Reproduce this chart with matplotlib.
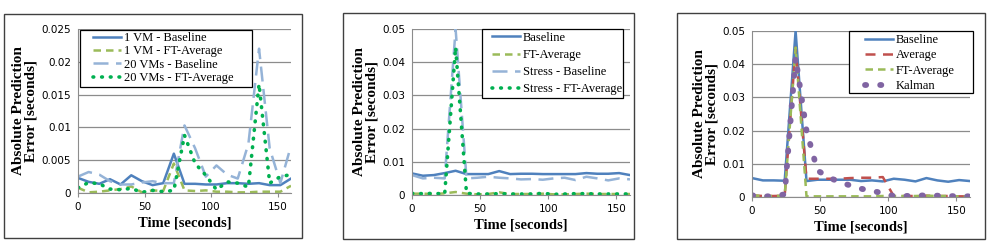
import numpy as np
import matplotlib.pyplot as plt
from matplotlib.patches import Rectangle

t = np.arange(0, 161, 8)

# panel 1
vm1_base = [0.0023, 0.0017, 0.0014, 0.0021, 0.0013, 0.0027, 0.0018, 0.0012, 0.0015, 0.0060, 0.0014,
            0.0014, 0.0013, 0.0013, 0.0015, 0.0015, 0.0014, 0.0015, 0.0012, 0.0012, 0.0022]
vm1_ft = [0.0008, 0.0001, 0.0002, 0.0004, 0.0006, 0.0010, 0.0001, 0.0004, 0.0003, 0.0045, 0.0004,
          0.0003, 0.0004, 0.0002, 0.0002, 0.0001, 0.0001, 0.0002, 0.0002, 0.0002, 0.0011]
vm20_base = [0.0025, 0.0032, 0.0028, 0.0018, 0.0013, 0.0013, 0.0016, 0.0018, 0.0015, 0.0015, 0.0103,
             0.0068, 0.0025, 0.0042, 0.0028, 0.0022, 0.0075, 0.0220, 0.0068, 0.0015, 0.0072]
vm20_ft = [0.0008, 0.0016, 0.0014, 0.0006, 0.0005, 0.0007, 0.0001, 0.0004, 0.0002, 0.0004, 0.0088,
           0.0045, 0.0027, 0.0005, 0.0017, 0.0015, 0.0009, 0.0166, 0.0015, 0.0025, 0.0028]

# panel 2
p2_base = [0.0065, 0.0058, 0.0060, 0.0066, 0.0073, 0.0063, 0.0063, 0.0063, 0.0072, 0.0063, 0.0064,
           0.0064, 0.0063, 0.0063, 0.0063, 0.0063, 0.0066, 0.0064, 0.0064, 0.0066, 0.0060]
p2_ft = [0.0004, 0.0004, 0.0003, 0.0005, 0.0009, 0.0004, 0.0002, 0.0003, 0.0008, 0.0003, 0.0003,
         0.0003, 0.0004, 0.0002, 0.0002, 0.0003, 0.0004, 0.0003, 0.0003, 0.0003, 0.0003]
p2_stress_base = [0.0060, 0.0050, 0.0052, 0.0050, 0.0500, 0.0050, 0.0052, 0.0055, 0.0052, 0.0050, 0.0047,
                  0.0048, 0.0046, 0.0050, 0.0052, 0.0045, 0.0055, 0.0050, 0.0044, 0.0050, 0.0047]
p2_stress_ft = [0.0005, 0.0004, 0.0005, 0.0003, 0.0445, 0.0005, 0.0003, 0.0003, 0.0004, 0.0003, 0.0003,
                0.0003, 0.0005, 0.0002, 0.0003, 0.0004, 0.0004, 0.0003, 0.0003, 0.0003, 0.0003]

# panel 3
p3_base = [0.0057, 0.0050, 0.0050, 0.0049, 0.0500, 0.0048, 0.0052, 0.0052, 0.0052, 0.0052, 0.0048,
           0.0050, 0.0047, 0.0055, 0.0052, 0.0047, 0.0057, 0.0050, 0.0046, 0.0051, 0.0048]
p3_avg = [0.0005, 0.0003, 0.0003, 0.0004, 0.0450, 0.0055, 0.0055, 0.0055, 0.0055, 0.0057, 0.0058,
          0.0058, 0.0060, 0.0003, 0.0003, 0.0003, 0.0004, 0.0003, 0.0003, 0.0002, 0.0002]
p3_ft = [0.0005, 0.0003, 0.0003, 0.0004, 0.0450, 0.0002, 0.0002, 0.0002, 0.0002, 0.0002, 0.0002,
         0.0002, 0.0003, 0.0003, 0.0003, 0.0003, 0.0004, 0.0003, 0.0003, 0.0002, 0.0003]
p3_kalman = [0.0005, 0.0002, 0.0002, 0.0008, 0.0420, 0.0200, 0.0080, 0.0060, 0.0045, 0.0035, 0.0025,
             0.0018, 0.0012, 0.0003, 0.0003, 0.0004, 0.0005, 0.0004, 0.0003, 0.0002, 0.0002]

W, H = 990, 250
fig = plt.figure(figsize=(9.9, 2.5), dpi=100)

serif = 'Liberation Serif'
blue = '#4F81BD'
lblue = '#95B3D7'
olive = '#9BBB59'
green = '#00B050'
red = '#C0504D'
purple = '#8064A2'

dot = dict(ls=(0, (0.2, 2.2)), dash_capstyle='round', lw=2.6)


def px_rect(x0, y0, x1, y1, **kw):
    return Rectangle((x0 / W, 1 - y1 / H), (x1 - x0) / W, (y1 - y0) / H,
                     transform=fig.transFigure, clip_on=False, **kw)


def make_ax(x0, y0, x1, y1, ymax, ystep, ylabfmt):
    ax = fig.add_axes([x0 / W, 1 - y1 / H, (x1 - x0) / W, (y1 - y0) / H])
    ax.set_xlim(0, 160)
    ax.set_ylim(0, ymax)
    ax.set_xticks([0, 50, 100, 150])
    yt = np.arange(0, ymax + ystep / 2, ystep)
    ax.set_yticks(yt)
    ax.set_yticklabels(['0'] + [ylabfmt(v) for v in yt[1:]])
    ax.grid(axis='y', color='#8c8c8c', lw=0.9)
    ax.set_axisbelow(True)
    for s in ['top', 'right']:
        ax.spines[s].set_visible(False)
    for s in ['left', 'bottom']:
        ax.spines[s].set_color('#8c8c8c')
    ax.tick_params(axis='both', labelsize=7.5, color='#8c8c8c', length=3)
    ax.tick_params(axis='y', length=0, pad=5)
    ax.set_xlabel('Time [seconds]', family=serif, fontsize=10.5, fontweight='bold', labelpad=3)
    ax.set_ylabel('Absolute Prediction\nError [seconds]', family=serif, fontsize=11,
                  fontweight='bold', linespacing=1.0, labelpad=2.5)
    return ax


def leg(ax, frame_px, hx, ymid, spacing):
    # legend entries without frame; white box + frame drawn separately to match padding
    ax.add_patch(px_rect(*frame_px, fc='white', ec='black', lw=0.9, zorder=4))
    lg = ax.legend(loc='center left', bbox_to_anchor=(hx / W, 1 - ymid / H),
                   bbox_transform=fig.transFigure, prop={'family': serif, 'size': 9.0},
                   frameon=False, handlelength=2.2, borderpad=0, labelspacing=spacing,
                   handletextpad=0.25, borderaxespad=0)
    lg.set_zorder(6)


# outer panel frames
for fr in [(4, 14, 302, 238), (343, 13, 634, 239), (677, 13, 985, 239)]:
    fig.patches.append(px_rect(*fr, fill=False, ec='#404040', lw=1.0))

# panel 1
ax1 = make_ax(78, 29, 291, 193, 0.025, 0.005, lambda v: f'{v:g}')
ax1.plot(t, vm1_base, color=blue, lw=1.8, label='1 VM - Baseline')
ax1.plot(t, vm1_ft, color=olive, lw=1.8, ls=(0, (3, 2)), label='1 VM - FT-Average')
ax1.plot(t, vm20_base, color=lblue, lw=1.8, ls=(0, (6, 3)), label='20 VMs - Baseline')
ax1.plot(t, vm20_ft, color=green, label='20 VMs - FT-Average', **dot)
leg(ax1, (80, 30, 252, 87), 93, 58, 0.11)

# panel 2
ax2 = make_ax(412, 29, 630, 195, 0.05, 0.01, lambda v: f'{v:.2f}')
ax2.plot(t, p2_base, color=blue, lw=1.8, label='Baseline')
ax2.plot(t, p2_ft, color=olive, lw=1.8, ls=(0, (3, 2)), label='FT-Average')
ax2.plot(t, p2_stress_base, color=lblue, lw=1.8, ls=(0, (6, 3)), label='Stress - Baseline')
ax2.plot(t, p2_stress_ft, color=green, label='Stress - FT-Average', **dot)
leg(ax2, (482, 29, 623, 98), 492, 63.5, 0.41)

# panel 3
ax3 = make_ax(752, 31, 970, 197, 0.05, 0.01, lambda v: f'{v:.2f}')
ax3.plot(t, p3_base, color=blue, lw=1.8, label='Baseline')
ax3.plot(t, p3_avg, color=red, lw=1.8, ls=(0, (4, 3)), label='Average')
ax3.plot(t, p3_ft, color=olive, lw=1.8, ls=(0, (3, 2)), label='FT-Average')
ax3.plot(t, p3_kalman, color=purple, ls=(0, (0.2, 2.4)), dash_capstyle='round', lw=4.2,
         label='Kalman')
leg(ax3, (849, 31, 973, 93), 865, 63, 0.27)

fig.savefig('out.png', dpi=100)
